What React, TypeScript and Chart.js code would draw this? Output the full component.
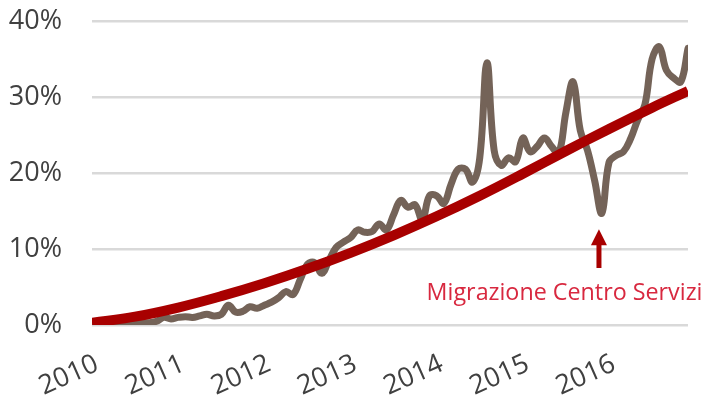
import React, { useEffect, useRef } from 'react';
import { Chart, registerables } from 'chart.js';

Chart.register(...registerables);

// ---- data ----
const years = ['2010', '2011', '2012', '2013', '2014', '2015', '2016'];
// monthly share (%), Jan 2010 .. Dec 2016
const monthlyShare = [
  0.3, 0.2, 0.2, 0.1, 0.2, 0.2, 0.2, 0.3, 0.3, 0.5, 1.0, 0.8,
  1.0, 1.1, 1.0, 1.2, 1.4, 1.2, 1.4, 2.6, 1.7, 1.8, 2.4, 2.2,
  2.6, 3.0, 3.6, 4.4, 4.0, 6.0, 8.0, 8.2, 6.8, 8.5, 10.2, 10.9,
  11.5, 12.5, 12.2, 12.3, 13.3, 12.5, 14.5, 16.4, 15.5, 15.8, 13.8, 17.0,
  17.0, 16.0, 18.5, 20.5, 20.5, 18.8, 22.0, 34.5, 23.0, 21.0, 22.0, 21.5,
  24.6, 22.8, 23.5, 24.6, 23.5, 22.6, 28.0, 32.0, 25.6, 23.0, 19.0, 14.7,
  21.4, 22.3, 22.8, 24.5, 27.0, 29.0, 35.0, 36.6, 33.5, 32.5, 32.0, 36.4,
];
// trend curve, read at a few months
const trendMonths = [0, 6, 12, 18, 24, 30, 36, 42, 48, 54, 60, 66, 72, 78, 83];
const trendValues = [0.3, 1.1, 2.3, 3.8, 5.5, 7.4, 9.5, 11.8, 14.3, 17.0, 19.9, 22.9, 25.8, 28.6, 30.8];
const yTicks = [0, 10, 20, 30, 40];

const annotationText = 'Migrazione Centro Servizi';
const arrowMonth = 70.6;
const arrowFrom = 7.5;
const arrowTo = 12.6;
const labelMonth = 46.6;
const labelValue = 3.3;

const FONT = "'Open Sans', 'Noto Sans', sans-serif";

const annotationPlugin = {
  id: 'migrationNote',
  afterDatasetsDraw(chart: any) {
    const { ctx, scales } = chart;
    const xs = scales.x;
    const ys = scales.y;
    const ax = xs.getPixelForValue(arrowMonth);
    const yb = ys.getPixelForValue(arrowFrom);
    const yt = ys.getPixelForValue(arrowTo);
    ctx.save();
    ctx.strokeStyle = '#a80000';
    ctx.fillStyle = '#a80000';
    ctx.lineWidth = 5;
    ctx.beginPath();
    ctx.moveTo(ax, yb);
    ctx.lineTo(ax, yt + 12);
    ctx.stroke();
    ctx.beginPath();
    ctx.moveTo(ax, yt);
    ctx.lineTo(ax - 8, yt + 16);
    ctx.lineTo(ax + 8, yt + 16);
    ctx.closePath();
    ctx.fill();
    ctx.font = `23.3px ${FONT}`;
    ctx.fillStyle = '#d8283f';
    ctx.textAlign = 'left';
    ctx.textBaseline = 'alphabetic';
    ctx.fillText(annotationText, xs.getPixelForValue(labelMonth), ys.getPixelForValue(labelValue));
    ctx.restore();
  },
};

export default function App() {
  const ref = useRef<HTMLCanvasElement | null>(null);
  useEffect(() => {
    if (!ref.current) return;
    const chart = new Chart(ref.current, {
      type: 'line',
      data: {
        datasets: [
          {
            label: 'trend',
            data: trendMonths.map((m, i) => ({ x: m, y: trendValues[i] })),
            borderColor: '#a80000',
            borderWidth: 10,
            pointRadius: 0,
            tension: 0.4,
            fill: false,
            order: 0,
          },
          {
            label: 'share',
            data: monthlyShare.map((v, i) => ({ x: i, y: v })),
            borderColor: '#746358',
            borderWidth: 7,
            borderCapStyle: 'round',
            borderJoinStyle: 'round',
            pointRadius: 0,
            tension: 0.4,
            fill: false,
            order: 1,
          },
        ],
      },
      options: {
        animation: false,
        responsive: true,
        maintainAspectRatio: false,
        layout: { padding: { top: 21, right: 16, left: 0, bottom: 0 } },
        plugins: { legend: { display: false }, tooltip: { enabled: false } },
        scales: {
          x: {
            type: 'linear',
            min: 0,
            max: 83,
            grid: { display: false },
            border: { display: false },
            afterBuildTicks: (s: any) => {
              s.ticks = years.map((_, i) => ({ value: i * 12 }));
            },
            afterFit: (s: any) => {
              s.height = 77;
              s.paddingLeft = 0;
              s.paddingRight = 0;
            },
            ticks: {
              autoSkip: false,
              maxRotation: 24,
              minRotation: 24,
              padding: 15,
              labelOffset: 5,
              color: '#404040',
              font: { family: FONT, size: 27 },
              callback: (v: any) => years[Math.round(Number(v) / 12)] ?? '',
            },
          },
          y: {
            min: 0,
            max: 40,
            afterBuildTicks: (s: any) => {
              s.ticks = yTicks.map((v) => ({ value: v }));
            },
            afterFit: (s: any) => {
              s.width = 92;
              s.paddingTop = 0;
              s.paddingBottom = 0;
            },
            grid: { color: '#d9d9d9', lineWidth: 2.5, drawTicks: false },
            border: { display: false },
            ticks: {
              padding: 30,
              color: '#404040',
              font: { family: FONT, size: 27 },
              callback: (v: any) => `${v}%`,
            },
          },
        },
      },
      plugins: [annotationPlugin],
    });
    return () => chart.destroy();
  }, []);
  return (
    <div style={{ position: 'absolute', left: 0, top: 0, width: 704, height: 402 }}>
      <canvas ref={ref} />
    </div>
  );
}
